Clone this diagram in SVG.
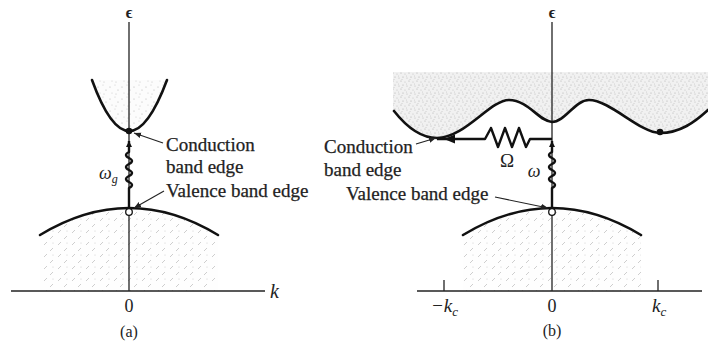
<svg xmlns="http://www.w3.org/2000/svg" width="708" height="343" viewBox="0 0 708 343">
<style>
.axis{stroke:#222;stroke-width:1.3;fill:none}
.band{stroke:#111;stroke-width:2.6;fill:none;stroke-linecap:round}
.trans{stroke:#111;stroke-width:2.4;fill:none;stroke-linejoin:round}
.lead{stroke:#222;stroke-width:1.1;fill:none}
.t{font-family:"Liberation Serif","Times New Roman",serif;fill:#222;font-size:19px;stroke:#222;stroke-width:0.25}
.lab{font-family:"Liberation Serif","DejaVu Serif",serif;fill:#222}
</style>
<defs>
<pattern id="stipLight" width="12" height="12" patternUnits="userSpaceOnUse">
<rect width="12" height="12" fill="#fcfcfc"/>
<circle cx="2" cy="3" r="0.6" fill="#b5b5b5"/><circle cx="7" cy="1" r="0.5" fill="#c5c5c5"/>
<circle cx="10" cy="6" r="0.6" fill="#b5b5b5"/><circle cx="4" cy="9" r="0.5" fill="#c5c5c5"/>
<circle cx="8" cy="10" r="0.5" fill="#bbb"/>
</pattern>
<pattern id="stipDark" width="8" height="8" patternUnits="userSpaceOnUse">
<rect width="8" height="8" fill="#f1f1f1"/>
<circle cx="1" cy="1" r="0.6" fill="#b0b0b0"/><circle cx="5" cy="2" r="0.6" fill="#c0c0c0"/>
<circle cx="3" cy="5" r="0.6" fill="#adadad"/><circle cx="7" cy="6" r="0.6" fill="#bbb"/>
<circle cx="2" cy="7.5" r="0.5" fill="#c5c5c5"/><circle cx="6.5" cy="4" r="0.5" fill="#cacaca"/>
</pattern>
<pattern id="hatch" width="14" height="12" patternUnits="userSpaceOnUse">
<rect width="14" height="12" fill="#fefefe"/>
<line x1="2" y1="5" x2="5" y2="2" stroke="#c2c2c2" stroke-width="0.8"/>
<line x1="8" y1="11" x2="11" y2="8" stroke="#c2c2c2" stroke-width="0.8"/>
<circle cx="11" cy="3" r="0.5" fill="#c5c5c5"/>
</pattern>
<marker id="ah" viewBox="0 0 10 10" refX="10" refY="5" markerWidth="6" markerHeight="6" orient="auto" markerUnits="userSpaceOnUse">
<path d="M0,0 L10,5 L0,10 Z" fill="#111"/>
</marker>
<marker id="ahs" viewBox="0 0 10 10" refX="10" refY="5" markerWidth="7" markerHeight="7" orient="auto" markerUnits="userSpaceOnUse">
<path d="M0,1 L10,5 L0,9 Z" fill="#222"/>
</marker>
</defs>

<!-- Panel (a) -->
<g id="panel-a-shading">
<path d="M92,80 Q129,182 167,80 Z" fill="url(#stipLight)"/>
<path d="M40,235 Q129,181 218,235 L218,291 L40,291 Z" fill="url(#hatch)"/>
</g>
<g id="panel-a-axes">
<line class="axis" x1="129" y1="22" x2="129" y2="291"/>
<line class="axis" x1="11" y1="291" x2="265" y2="291"/>
<text class="lab" x="129" y="18" font-size="16" font-weight="bold" text-anchor="middle">ϵ</text>
<text class="lab" x="270" y="298" font-size="20" font-style="italic">k</text>
<text class="lab" x="129" y="312" font-size="18" text-anchor="middle">0</text>
<text class="lab" x="129" y="337" font-size="16" text-anchor="middle">(a)</text>
</g>
<g id="a-conduction-band">
<path class="band" d="M92,80 Q129,182 167,80"/>
<circle cx="129" cy="131" r="3.3" fill="#111"/>
</g>
<g id="a-valence-band">
<path class="band" d="M40,235 Q129,181 218,235"/>
<circle cx="129" cy="212" r="3.3" fill="#fff" stroke="#111" stroke-width="1.3"/>
</g>
<g id="a-labels">
<text class="t" x="166" y="151">Conduction</text>
<text class="t" x="166" y="173">band edge</text>
<text class="t" x="166" y="197">Valence band edge</text>
<text class="lab" x="99" y="179" font-size="18" font-style="italic">ω<tspan font-size="12" dy="4">g</tspan></text>
</g>

<!-- Panel (b) -->
<g id="panel-b-shading">
<path d="M393,72 L708,72 L708,110 C695,122 680,133 660,133 C640,133 610,100 589,100 C575,100 565,122 552,122 C540,122 528,100 509,100 C490,100 465,138 437,138 C420,138 405,125 393,111 Z" fill="url(#stipDark)"/>
<path d="M463,235 Q552,181 641,235 L641,291 L463,291 Z" fill="url(#hatch)"/>
</g>
<g id="panel-b-axes">
<line class="axis" x1="552" y1="22" x2="552" y2="291"/>
<line class="axis" x1="417" y1="291" x2="702" y2="291"/>
<line class="axis" x1="444" y1="280" x2="444" y2="291"/>
<line class="axis" x1="658" y1="280" x2="658" y2="291"/>
<text class="lab" x="552" y="18" font-size="16" font-weight="bold" text-anchor="middle">ϵ</text>
<text class="lab" x="431" y="312" font-size="19" font-style="italic">−k<tspan font-size="13" dy="4">c</tspan></text>
<text class="lab" x="552" y="312" font-size="18" text-anchor="middle">0</text>
<text class="lab" x="652" y="312" font-size="19" font-style="italic">k<tspan font-size="13" dy="4">c</tspan></text>
<text class="lab" x="552" y="336" font-size="16" text-anchor="middle">(b)</text>
</g>
<g id="b-conduction-band">
<path class="band" d="M394,111 C405,125 420,138 437,138 C465,138 490,100 509,100 C528,100 540,122 552,122 C565,122 575,100 589,100 C610,100 640,133 660,133 C680,133 695,122 708,110"/>
<circle cx="660" cy="132" r="3.3" fill="#111"/>
</g>
<g id="b-valence-band">
<path class="band" d="M463,235 Q552,181 641,235"/>
<circle cx="552" cy="212" r="3.3" fill="#fff" stroke="#111" stroke-width="1.3"/>
</g>
<g id="b-labels">
<text class="t" x="324" y="153">Conduction</text>
<text class="t" x="324" y="176">band edge</text>
<text class="t" x="346" y="200">Valence band edge</text>
<text class="lab" x="507" y="167" font-size="19" text-anchor="middle">Ω</text>
<text class="lab" x="534" y="177" font-size="18" font-style="italic" text-anchor="middle">ω</text>
</g>

<!-- Connectors -->
<g id="connectors">
<path class="trans" d="M129,208 L129,188 q6,-3 0,-6 q-6,-3 0,-6 q6,-3 0,-6 q-6,-3 0,-6 q6,-3 0,-6 q-6,-3 0,-6 L129,141" marker-end="url(#ah)"/>
<line class="lead" x1="163" y1="143" x2="134" y2="133" marker-end="url(#ahs)"/>
<line class="lead" x1="164" y1="191" x2="134" y2="208" marker-end="url(#ahs)"/>
<path class="trans" d="M552,208 L552,188 q6,-3 0,-6 q-6,-3 0,-6 q6,-3 0,-6 q-6,-3 0,-6 q6,-3 0,-6 q-6,-3 0,-6 L552,141" marker-end="url(#ah)"/>
<path class="trans" d="M552,139 L530,139 L526,147 L519,128 L512,147 L505,128 L498,147 L491,128 L485,139 L437,139"/>
<path d="M444,139 L455,134.5 L455,143.5 Z" fill="#111"/>
<line class="lead" x1="416" y1="144" x2="436" y2="138" marker-end="url(#ahs)"/>
<line class="lead" x1="495" y1="197" x2="548" y2="208" marker-end="url(#ahs)"/>
</g>
</svg>
